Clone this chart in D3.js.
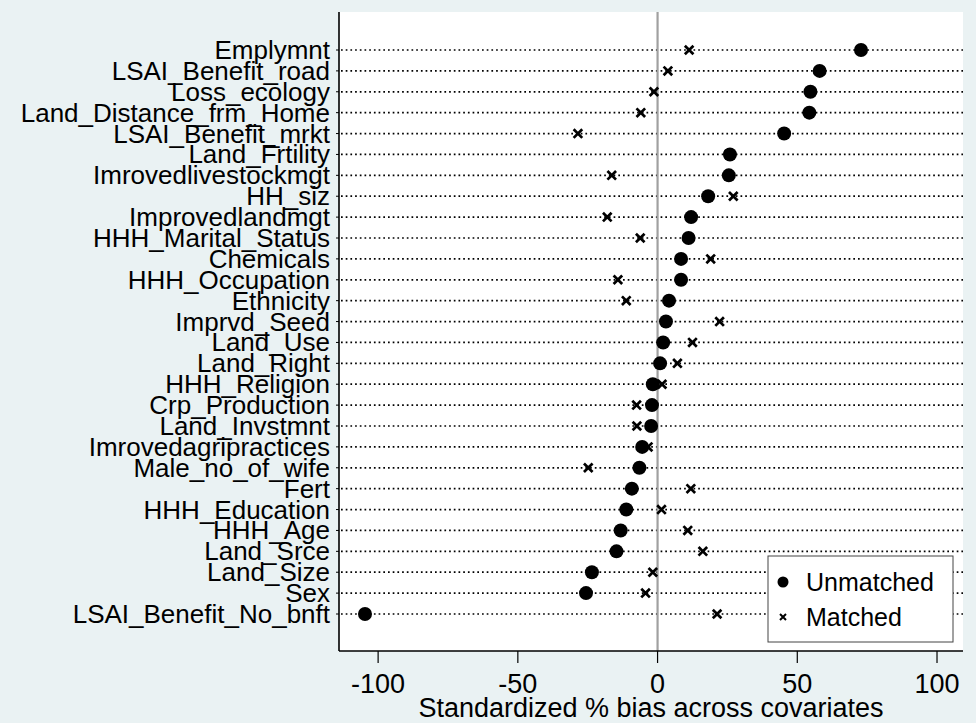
<!DOCTYPE html>
<html>
<head>
<meta charset="utf-8">
<script src="https://cdn.jsdelivr.net/npm/d3@7"></script>
<style>
  html, body { margin: 0; padding: 0; background: #eaf2f3; }
  svg { display: block; }
  text { font-family: "Liberation Sans", Arial, Helvetica, sans-serif; fill: #000; }
</style>
</head>
<body>
<svg id="chart" width="976" height="723"></svg>
<script>
const categories = [
  "Emplymnt", "LSAI_Benefit_road", "Loss_ecology", "Land_Distance_frm_Home",
  "LSAI_Benefit_mrkt", "Land_Frtility", "Imrovedlivestockmgt", "HH_siz",
  "Improvedlandmgt", "HHH_Marital_Status", "Chemicals", "HHH_Occupation",
  "Ethnicity", "Imprvd_Seed", "Land_Use", "Land_Right", "HHH_Religion",
  "Crp_Production", "Land_Invstmnt", "Imrovedagripractices", "Male_no_of_wife",
  "Fert", "HHH_Education", "HHH_Age", "Land_Srce", "Land_Size", "Sex",
  "LSAI_Benefit_No_bnft"
];
const unmatched = [
  72.8, 58.0, 54.7, 54.3, 45.3, 25.9, 25.5, 18.1, 12.0, 11.1, 8.4, 8.4,
  4.1, 3.0, 2.0, 0.9, -1.7, -2.0, -2.3, -5.5, -6.5, -9.2, -11.2, -13.2,
  -14.7, -23.5, -25.6, -104.7
];
const matched = [
  11.3, 3.7, -1.3, -6.0, -28.5, 25.6, -16.4, 27.1, -18.0, -6.2, 19.0, -14.2,
  -11.2, 22.2, 12.5, 7.1, 1.6, -7.5, -7.4, -3.4, -24.8, 11.9, 1.4, 10.8,
  16.2, -1.7, -4.3, 21.3
];
const xTicks = [-100, -50, 0, 50, 100];
const xTitle = "Standardized % bias across covariates";
const legendLabels = ["Unmatched", "Matched"];

const svg = d3.select("#chart");
const plot = { left: 339, right: 963, top: 12, bottom: 651 };
const fs = 26;
const fsAxis = 27;

svg.append("rect").attr("x", 0).attr("y", 0).attr("width", 976).attr("height", 723)
  .attr("fill", "#eaf2f3");
svg.append("rect")
  .attr("x", plot.left).attr("y", plot.top)
  .attr("width", plot.right - plot.left).attr("height", plot.bottom - plot.top)
  .attr("fill", "#ffffff");

const x = d3.scaleLinear().domain([-114, 109.3]).range([plot.left, plot.right]);
const y = d3.scalePoint().domain(categories).range([50, 614]);

// dotted guide lines
svg.append("g").selectAll("line").data(categories).join("line")
  .attr("x1", plot.left + 2).attr("x2", plot.right)
  .attr("y1", d => y(d)).attr("y2", d => y(d))
  .attr("stroke", "#000").attr("stroke-width", 1.7)
  .attr("stroke-dasharray", "1.7 3.0");

// zero reference line
svg.append("line")
  .attr("x1", x(0)).attr("x2", x(0))
  .attr("y1", plot.top).attr("y2", plot.bottom)
  .attr("stroke", "#a0a0a0").attr("stroke-width", 2.2);

// unmatched dots
svg.append("g").selectAll("circle").data(categories).join("circle")
  .attr("cx", (d, i) => x(unmatched[i])).attr("cy", d => y(d))
  .attr("r", 7).attr("fill", "#000");

// matched x markers
const xs = 4.3;
const mg = svg.append("g").selectAll("g").data(categories).join("g")
  .attr("transform", (d, i) => `translate(${x(matched[i])},${y(d)})`);
mg.append("path")
  .attr("d", `M${-xs},${-xs}L${xs},${xs}M${-xs},${xs}L${xs},${-xs}`)
  .attr("stroke", "#000").attr("stroke-width", 2.7).attr("fill", "none");

// y axis
svg.append("line").attr("x1", plot.left).attr("x2", plot.left)
  .attr("y1", plot.top).attr("y2", plot.bottom)
  .attr("stroke", "#000").attr("stroke-width", 1.6);
svg.append("g").selectAll("line").data(categories).join("line")
  .attr("x1", plot.left - 3).attr("x2", plot.left)
  .attr("y1", d => y(d)).attr("y2", d => y(d))
  .attr("stroke", "#000").attr("stroke-width", 1);
svg.append("g").selectAll("text").data(categories).join("text")
  .attr("x", 330).attr("y", d => y(d) + 9)
  .attr("text-anchor", "end")
  .attr("font-size", fs)
  .text(d => d);

// x axis
svg.append("line").attr("x1", plot.left).attr("x2", plot.right)
  .attr("y1", plot.bottom).attr("y2", plot.bottom)
  .attr("stroke", "#000").attr("stroke-width", 1.6);
svg.append("g").selectAll("line").data(xTicks).join("line")
  .attr("x1", d => x(d)).attr("x2", d => x(d))
  .attr("y1", plot.bottom).attr("y2", plot.bottom + 12)
  .attr("stroke", "#000").attr("stroke-width", 1.2);
svg.append("g").selectAll("text").data(xTicks).join("text")
  .attr("x", d => x(d)).attr("y", plot.bottom + 42)
  .attr("text-anchor", "middle")
  .attr("font-size", fsAxis)
  .text(d => d < 0 ? "-" + Math.abs(d) : String(d));
svg.append("text")
  .attr("x", (plot.left + plot.right) / 2).attr("y", plot.bottom + 66)
  .attr("text-anchor", "middle")
  .attr("font-size", fsAxis)
  .text(xTitle);

// legend
const lg = svg.append("g");
lg.append("rect").attr("x", 768).attr("y", 556).attr("width", 185).attr("height", 86)
  .attr("fill", "#fff").attr("stroke", "#444").attr("stroke-width", 1);
lg.append("circle").attr("cx", 783).attr("cy", 582).attr("r", 5.5).attr("fill", "#000");
const ls = 3;
lg.append("path").attr("d", `M${783 - ls},${617 - ls}L${783 + ls},${617 + ls}M${783 - ls},${617 + ls}L${783 + ls},${617 - ls}`)
  .attr("stroke", "#000").attr("stroke-width", 2);
lg.selectAll("text.lab").data(legendLabels).join("text").attr("class", "lab")
  .attr("x", 806).attr("y", (d, i) => 591 + i * 35)
  .attr("font-size", 25)
  .text(d => d);
</script>
</body>
</html>
